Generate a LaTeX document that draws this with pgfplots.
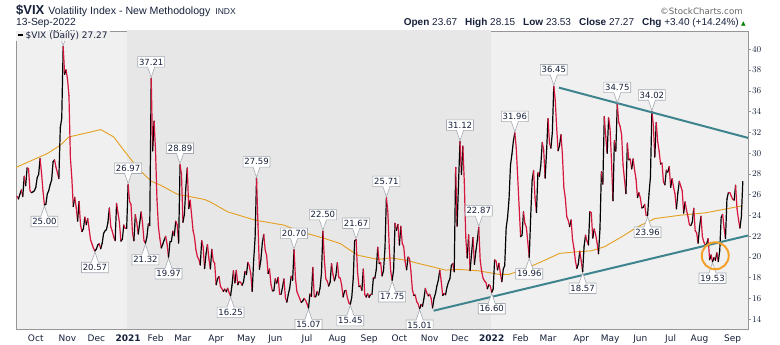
\documentclass[border=0pt]{standalone}
\usepackage{fontspec}
\setmainfont{Liberation Sans}
\newfontfamily\dv{DejaVu Sans}
\usepackage{pgfplots}
\usepackage{pgfplotstable}
\pgfplotsset{compat=1.18}
\usetikzlibrary{shapes.callouts}
\definecolor{navy}{RGB}{22,32,58}
\definecolor{vred}{RGB}{214,22,60}
\definecolor{bgl}{RGB}{240,240,240}
\definecolor{bgd}{RGB}{231,231,231}
\definecolor{maor}{RGB}{228,160,30}
\definecolor{tealln}{RGB}{62,132,142}
\definecolor{circor}{RGB}{245,160,40}
\definecolor{boxgray}{RGB}{165,170,178}
\definecolor{axgray}{RGB}{150,150,150}

\pgfplotstableread[row sep=\\]{
v\\
25.85\\ 25.59\\ 26.04\\ 26.46\\ 25.83\\ 27.78\\ 26.86\\ 28.58\\ 28.51\\ 26.38\\ 26.19\\ 26.27\\ 26.37\\
26.70\\ 27.63\\ 27.96\\ 29.48\\ 28.06\\ 26.36\\ 25.00\\ 25.07\\ 26.07\\ 26.40\\ 26.97\\ 27.41\\ 29.18\\ 29.35\\ 28.65\\ 28.11\\ 27.55\\ 32.46\\ 33.35\\ 40.28\\ 37.59\\ 38.02\\
37.13\\ 35.55\\ 29.57\\ 27.58\\ 24.86\\ 25.75\\ 24.80\\ 23.45\\ 25.35\\ 23.10\\ 22.45\\ 22.71\\ 23.84\\ 23.11\\ 23.70\\ 22.66\\ 21.64\\ 21.25\\ 20.84\\ 20.57\\
20.77\\ 21.17\\ 21.28\\ 20.79\\ 21.30\\ 22.27\\ 22.52\\ 22.65\\ 23.31\\ 24.72\\ 22.89\\ 22.50\\ 21.93\\ 21.57\\ 25.16\\ 24.23\\ 23.31\\ 21.53\\ 21.70\\ 23.08\\ 22.77\\ 22.75\\
26.97\\ 25.34\\ 25.07\\ 22.37\\ 21.56\\ 24.08\\ 23.33\\ 22.21\\ 23.25\\ 24.34\\ 23.24\\ 21.58\\ 21.32\\ 21.91\\ 23.19\\ 23.02\\ 37.21\\ 30.21\\ 33.09\\
30.24\\ 25.56\\ 22.91\\ 21.77\\ 20.87\\ 21.24\\ 21.63\\ 21.99\\ 21.25\\ 19.97\\ 21.46\\ 21.50\\ 22.49\\ 22.05\\ 23.45\\ 23.11\\ 21.34\\ 28.89\\ 27.95\\
23.35\\ 24.10\\ 26.67\\ 28.57\\ 24.66\\ 25.47\\ 24.03\\ 22.56\\ 21.91\\ 20.69\\ 20.03\\ 19.79\\ 19.23\\ 21.58\\ 20.95\\ 18.88\\ 20.30\\ 21.20\\ 19.81\\ 18.86\\ 20.74\\ 19.61\\ 19.40\\
17.33\\ 17.91\\ 18.12\\ 17.16\\ 16.95\\ 16.69\\ 16.91\\ 16.65\\ 16.99\\ 16.57\\ 16.25\\ 17.29\\ 18.68\\ 17.50\\ 18.71\\ 17.33\\ 17.64\\ 17.56\\ 17.28\\ 17.61\\ 18.61\\
18.31\\ 19.48\\ 19.15\\ 18.39\\ 16.69\\ 19.66\\ 21.84\\ 27.59\\ 23.13\\ 18.81\\ 19.72\\ 21.34\\ 22.18\\ 20.67\\ 20.15\\ 18.40\\ 18.84\\ 17.36\\ 16.74\\ 16.76\\
17.90\\ 17.48\\ 18.04\\ 16.42\\ 16.42\\ 17.07\\ 17.89\\ 16.10\\ 15.65\\ 16.39\\ 17.02\\ 18.15\\ 17.75\\ 20.70\\ 17.89\\ 16.66\\ 16.32\\ 15.97\\ 15.62\\ 15.76\\ 16.02\\ 15.83\\
15.48\\ 15.07\\ 16.44\\ 16.20\\ 19.00\\ 16.18\\ 16.17\\ 16.67\\ 16.33\\ 17.01\\ 18.45\\ 22.50\\ 19.73\\ 17.91\\ 17.69\\ 17.20\\ 17.58\\ 19.36\\ 18.31\\ 17.70\\ 18.24\\
19.46\\ 18.04\\ 17.97\\ 17.28\\ 16.15\\ 16.72\\ 16.79\\ 16.06\\ 15.59\\ 15.45\\ 16.12\\ 17.91\\ 21.57\\ 21.67\\ 18.56\\ 17.15\\ 17.22\\ 16.79\\ 18.84\\ 16.39\\ 16.14\\ 16.48\\
16.11\\ 16.41\\ 16.41\\ 18.03\\ 17.96\\ 18.80\\ 20.95\\ 19.37\\ 19.46\\ 18.18\\ 18.69\\ 20.81\\ 25.71\\ 24.36\\ 20.87\\ 18.63\\ 17.75\\ 18.76\\ 23.25\\ 22.56\\ 23.14\\
21.15\\ 22.96\\ 21.30\\ 21.00\\ 19.54\\ 18.77\\ 20.00\\ 19.85\\ 18.64\\ 16.86\\ 16.30\\ 16.34\\ 15.70\\ 15.49\\ 15.01\\ 15.43\\ 15.24\\ 15.98\\ 16.98\\ 16.53\\ 16.26\\
16.41\\ 16.03\\ 15.10\\ 16.03\\ 16.48\\ 17.22\\ 17.78\\ 18.73\\ 17.66\\ 16.29\\ 16.49\\ 16.37\\ 17.11\\ 17.59\\ 17.91\\ 19.17\\ 19.38\\ 18.58\\ 28.62\\ 22.96\\ 27.19\\
31.12\\ 27.95\\ 30.67\\ 27.18\\ 21.89\\ 19.90\\ 22.14\\ 18.69\\ 20.31\\ 21.89\\ 19.29\\ 20.57\\ 21.57\\ 22.87\\ 19.70\\ 18.63\\ 17.96\\ 17.68\\ 17.54\\ 16.95\\ 17.33\\ 17.22\\
16.60\\ 16.91\\ 19.73\\ 19.61\\ 18.76\\ 19.40\\ 18.41\\ 17.62\\ 18.83\\ 19.19\\ 22.79\\ 23.85\\ 25.59\\ 28.85\\ 29.90\\ 31.16\\ 31.96\\ 30.49\\ 27.66\\ 24.83\\
21.96\\ 22.09\\ 24.35\\ 23.22\\ 22.86\\ 21.44\\ 19.96\\ 23.91\\ 27.36\\ 28.33\\ 25.70\\ 24.29\\ 28.11\\ 27.75\\ 28.81\\ 31.02\\ 30.32\\ 27.59\\ 30.15\\
33.32\\ 31.00\\ 30.48\\ 31.98\\ 36.45\\ 35.13\\ 32.45\\ 30.23\\ 30.75\\ 31.77\\ 29.83\\ 26.67\\ 25.67\\ 23.87\\ 23.53\\ 22.94\\ 23.57\\ 21.67\\ 20.81\\ 19.63\\ 18.90\\ 19.33\\ 20.56\\
19.63\\ 18.57\\ 21.03\\ 22.10\\ 21.55\\ 21.16\\ 24.37\\ 24.26\\ 21.82\\ 22.70\\ 22.17\\ 21.37\\ 20.32\\ 22.68\\ 28.21\\ 27.02\\ 33.52\\ 31.60\\ 29.99\\ 33.40\\
32.34\\ 29.25\\ 25.42\\ 31.20\\ 30.19\\ 34.75\\ 32.99\\ 32.56\\ 31.77\\ 28.87\\ 27.47\\ 26.10\\ 30.96\\ 29.35\\ 29.43\\ 28.48\\ 29.45\\ 28.37\\ 27.50\\ 25.72\\ 26.19\\
25.69\\ 24.72\\ 24.79\\ 25.07\\ 24.02\\ 23.96\\ 26.09\\ 27.75\\ 34.02\\ 32.69\\ 29.62\\ 32.95\\ 31.13\\ 30.19\\ 28.95\\ 29.05\\ 27.23\\ 26.95\\ 28.36\\ 28.16\\ 28.71\\
26.70\\ 27.54\\ 26.73\\ 26.08\\ 24.64\\ 26.17\\ 27.29\\ 26.82\\ 26.40\\ 24.23\\ 25.30\\ 24.50\\ 23.88\\ 23.11\\ 23.03\\ 23.36\\ 24.69\\ 22.54\\ 22.33\\ 21.33\\
22.84\\ 23.93\\ 21.95\\ 21.44\\ 21.15\\ 21.29\\ 21.77\\ 19.74\\ 20.20\\ 19.53\\ 19.95\\ 19.69\\ 20.40\\ 19.56\\ 20.60\\ 23.80\\ 24.11\\ 22.82\\ 21.78\\ 25.56\\ 26.21\\ 26.21\\ 25.87\\
25.56\\ 25.47\\ 26.91\\ 24.64\\ 23.61\\ 22.79\\ 23.87\\ 27.27\\
}\vix

\pgfplotstablecreatecol[create col/assign/.code={%
  \getthisrow{v}\cur
  \getnextrow{v}\nxt
  \ifx\nxt\empty\def\entry{1}\else
    \pgfmathparse{\nxt>\cur?1:0}\let\entry\pgfmathresult
  \fi
  \pgfkeyslet{/pgfplots/table/create col/next content}\entry}]{up}{\vix}

\tikzset{lab/.style={rectangle callout, draw=boxgray, fill=white, line width=0.6pt,
  font=\dv\fontsize{8.5}{8.5}\selectfont, text=navy, inner xsep=1.3pt, inner ysep=0pt,
  text height=6.3pt, text depth=0pt, minimum height=10.5pt, callout pointer width=7pt}}
\newcommand\hi[3]{\node[lab, callout relative pointer={(0pt,-10.2pt)}, anchor=pointer] at (axis cs:#1,#2) {#3};}
\newcommand\lo[3]{\node[lab, callout relative pointer={(0pt,10.2pt)}, anchor=pointer] at (axis cs:#1,#2) {#3};}

\begin{document}
\begin{tikzpicture}
\useasboundingbox (0,0) rectangle (780pt,345pt);
\begin{axis}[
  at={(16pt,16pt)}, anchor=south west,
  scale only axis, width=732pt, height=298pt,
  xmin=-0.7, xmax=506.6, ymin=13.07, ymax=41.76,
  axis background/.style={fill=bgl},
  axis line style={axgray, line width=0.8pt},
  ytick={14,16,...,40}, yticklabel pos=right, ytick pos=right,
  tick align=outside, major tick length=2.5pt,
  y tick style={axgray, line width=0.6pt},
  y tick label style={font=\dv\fontsize{9}{9}\selectfont, text=navy, xshift=-2pt},
  xtick={13,35,55,77,96,115,138,159,179,201,222,244,265,286,307,329,349,368,391,411,432,453,473,496},
  xticklabels={Oct,Nov,Dec,\textbf{2021},Feb,Mar,Apr,May,Jun,Jul,Aug,Sep,Oct,Nov,Dec,\textbf{2022},Feb,Mar,Apr,May,Jun,Jul,Aug,Sep},
  xtick pos=bottom, x tick style={draw=none},
  x tick label style={font=\dv\fontsize{9}{9}\selectfont, text=navy},
  point meta min=0, point meta max=1,
]
\addplot[draw=none, fill=bgd, forget plot] coordinates {(76.5,50) (328.5,50)} \closedcycle;
\addplot[maor, line width=0.9pt] coordinates {
(-0.7,28.6) (0,28.67) (21,29.96) (30,30.76) (36,31.56) (48,31.94) (58,32.27) (67,31.56) (74,30.28) (84,28.5) (93,27.3) (100,26.88) (111,26.05) (130,25.54) (134,25.3) (146,24.35) (165,23.55) (185,23.07) (197,22.43) (213,21.79) (224,21.3) (236,20.18) (250,19.77) (259,19.92) (269,19.7) (283,19.22) (297,18.74) (306,18.81) (320,18.67) (334,18.33) (341,18.33) (353,18.9) (367,19.77) (376,20.35) (388,20.5) (398,20.6) (407,20.98) (419,21.94) (430,22.9) (442,23.7) (460,24.03) (477,24.25) (493,24.67) (503,24.95)};
\addplot[mesh, shader=flat corner, point meta=\thisrow{up},
  colormap={ud}{color=(vred) color=(black)},
  line width=1.2pt, line cap=round, line join=round] table[x expr=\coordindex, y=v] {\vix};
\addplot[tealln, line width=2pt] coordinates {(288.7,14.83) (506.6,22.07)};
\addplot[tealln, line width=2pt] coordinates {(375.5,36.31) (506.6,31.47)};
\addplot[only marks, mark=o, mark size=13.5pt, mark options={draw=circor, line width=2pt}] coordinates {(483.9,20.12)};
\hi{32}{40.28}{40.28}
\hi{77}{26.97}{26.97}
\hi{93}{37.21}{37.21}
\hi{113}{28.89}{28.89}
\hi{166}{27.59}{27.59}
\hi{192}{20.70}{20.70}
\hi{212}{22.50}{22.50}
\hi{235}{21.67}{21.67}
\hi{256}{25.71}{25.71}
\hi{307}{31.12}{31.12}
\hi{320}{22.87}{22.87}
\hi{345}{31.96}{31.96}
\hi{372}{36.45}{36.45}
\hi{416}{34.75}{34.75}
\hi{440}{34.02}{34.02}
\lo{19}{25.00}{25.00}
\lo{54}{20.57}{20.57}
\lo{89}{21.32}{21.32}
\lo{105}{19.97}{19.97}
\lo{148}{16.25}{16.25}
\lo{202}{15.07}{15.07}
\lo{231}{15.45}{15.45}
\lo{260}{17.75}{17.75}
\lo{279}{15.01}{15.01}
\lo{329}{16.60}{16.60}
\lo{355}{19.96}{19.96}
\lo{392}{18.57}{18.57}
\lo{437}{23.96}{23.96}
\lo{482}{19.53}{19.53}
\node[anchor=north west, fill=bgl, inner xsep=2pt, inner ysep=1pt, text height=6.5pt, text depth=1.8pt,
  font=\dv\fontsize{9}{9}\selectfont, text=navy] at (rel axis cs:0,1)
  {\textcolor{black}{\rule[2.6pt]{5pt}{1.6pt}}\hspace{2.5pt}\$VIX (Daily) 27.27};
\end{axis}
\node[anchor=base west, inner sep=0, text=navy] at (16pt,330pt)
  {\fontsize{13}{13}\selectfont\bfseries \$VIX\hspace{4pt}\mdseries\fontsize{10.6}{10.6}\selectfont Volatility Index - New Methodology\hspace{5pt}\fontsize{8.5}{8.5}\selectfont INDX};
\node[anchor=base west, inner sep=0, text=navy, font=\fontsize{10.3}{10.3}\selectfont] at (16pt,319pt) {13-Sep-2022};
\node[anchor=base east, inner sep=0, text=navy, font=\fontsize{10}{10}\selectfont] at (739pt,319pt)
  {\textbf{Open} 23.67\hspace{8pt}\textbf{High} 28.15\hspace{8pt}\textbf{Low} 23.53\hspace{8pt}\textbf{Close} 27.27\hspace{8pt}\textbf{Chg} +3.40 (+14.24\%)};
\node[anchor=base west, inner sep=0, text=green!50!black, font=\dv\fontsize{6}{6}\selectfont] at (741pt,319.5pt) {▲};
\node[anchor=base east, inner sep=0, text=black!60, font=\dv\fontsize{8.7}{8.7}\selectfont] at (743pt,330pt) {©StockCharts.com};
\end{tikzpicture}
\end{document}
